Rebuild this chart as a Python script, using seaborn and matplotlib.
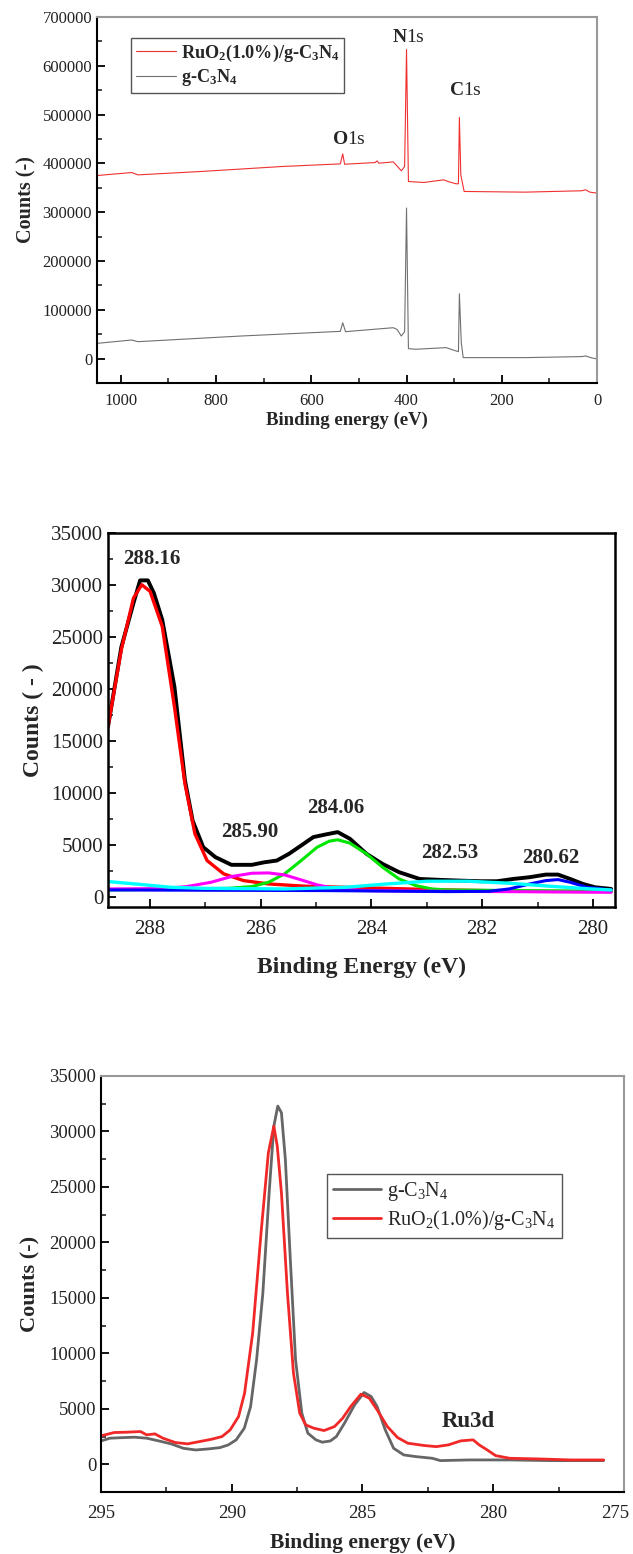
import matplotlib
matplotlib.use("Agg")
import matplotlib.pyplot as plt
import matplotlib.transforms as mtransforms
import seaborn as sns
import pandas as pd
from matplotlib.ticker import MultipleLocator

sns.set_style("ticks")
plt.rcParams["font.family"] = ["Liberation Serif", "DejaVu Serif"]
plt.rcParams["mathtext.fontset"] = "custom"
plt.rcParams["mathtext.rm"] = "Liberation Serif"
plt.rcParams["mathtext.bf"] = "Liberation Serif:bold"
plt.rcParams["mathtext.it"] = "Liberation Serif:italic"
plt.rcParams["mathtext.default"] = "regular"

# ---------------- Panel 1: survey spectra ----------------
survey_ru_x = [1049, 977, 964, 832, 662, 539, 534, 530, 466, 462, 458, 428, 420, 411, 404,
               400, 396, 364, 322, 313, 296, 291, 289, 286, 279, 151, 32, 24, 15, 0]
survey_ru_y = [375200, 381300, 376500, 383400, 393600, 399000, 419500, 398300, 401700, 405100,
               400400, 403100, 394900, 384700, 393600, 633300, 362900, 360900, 366300, 362900,
               358200, 358200, 494300, 376500, 342500, 341100, 343900, 345900, 341100, 339100]
survey_g_x = [1049, 977, 964, 747, 539, 534, 528, 428, 420, 411, 404, 400, 396, 381, 317,
              296, 291, 289, 285, 281, 151, 32, 24, 11, 0]
survey_g_y = [31300, 38100, 34700, 46300, 55800, 73500, 55200, 63300, 59900, 46300, 55200,
              308500, 20400, 19100, 22500, 15700, 14300, 132800, 32700, 2000, 2000, 4100,
              5400, 1400, -700]
survey_labels = [("N", "1s", 395, 659000), ("C", "1s", 277, 549000), ("O", "1s", 520, 448000)]

# ---------------- Panel 2: C1s fitting ----------------
env_x = [288.76, 288.52, 288.30, 288.18, 288.04, 287.93, 287.78, 287.56, 287.37, 287.23, 287.04,
         286.82, 286.53, 286.16, 285.94, 285.71, 285.49, 285.27, 285.05, 284.83, 284.61, 284.39,
         284.09, 283.80, 283.50, 283.13, 282.76, 282.40, 282.03, 281.73, 281.44, 281.14, 280.85,
         280.63, 280.41, 280.18, 279.96, 279.67]
env_y = [16350, 24000, 28250, 30440, 30440, 29200, 26640, 20200, 11200, 7300, 4760,
         3800, 3060, 3060, 3300, 3470, 4120, 4920, 5730, 5980, 6210, 5570,
         4120, 3150, 2350, 1700, 1610, 1540, 1480, 1480, 1700, 1870, 2120,
         2120, 1700, 1220, 900, 740]
red_x = [288.76, 288.52, 288.30, 288.15, 288.00, 287.78, 287.56, 287.37, 287.19, 286.97, 286.67,
         286.31, 285.86, 285.20, 284.09, 282.62, 281.14, 279.67]
red_y = [16350, 23750, 28730, 30020, 29380, 26000, 18280, 10880, 6050, 3470, 2190,
         1540, 1220, 1000, 840, 640, 510, 480]
mag_x = [288.76, 287.78, 287.34, 286.90, 286.53, 286.16, 285.86, 285.57, 285.27, 284.98, 284.68,
         284.09, 282.62, 279.67]
mag_y = [740, 770, 965, 1380, 1930, 2250, 2280, 2090, 1610, 1130, 800, 580, 510, 420]
grn_x = [288.76, 286.60, 286.16, 285.86, 285.57, 285.27, 284.98, 284.76, 284.61, 284.39, 284.09,
         283.80, 283.50, 283.20, 282.91, 282.62, 279.67]
grn_y = [640, 800, 965, 1380, 2190, 3470, 4760, 5340, 5470, 5150, 4120,
         2830, 1700, 1060, 740, 640, 510]
blu_x = [288.76, 284.83, 282.62, 281.88, 281.51, 281.14, 280.85, 280.63, 280.41, 280.11, 279.67]
blu_y = [640, 580, 480, 510, 740, 1220, 1540, 1640, 1380, 900, 640]
cyn_x = [288.76, 288.15, 287.63, 287.04, 285.57, 284.46, 283.72, 282.99, 282.25, 281.51, 280.78,
         280.04, 279.67]
cyn_y = [1450, 1160, 900, 800, 740, 900, 1220, 1480, 1480, 1290, 1000, 740, 640]
peak_labels = ["288.16", "285.90", "284.06", "282.53", "280.62"]
peak_lx = [287.96, 286.20, 284.64, 282.58, 280.76]
peak_ly = [32530, 6210, 8560, 4210, 3730]

# ---------------- Panel 3: C1s comparison ----------------
c_g_x = [295.00, 294.66, 294.19, 293.72, 293.25, 292.78, 292.32, 291.85, 291.38, 290.91, 290.45,
         290.13, 289.83, 289.52, 289.28, 289.05, 288.81, 288.57, 288.39, 288.24, 288.10, 287.95,
         287.76, 287.56, 287.32, 287.09, 286.78, 286.54, 286.23, 286.00, 285.69, 285.30, 284.94,
         284.67, 284.44, 284.13, 283.81, 283.42, 282.96, 282.33, 282.02, 280.93, 279.37, 277.81,
         275.78]
c_g_y = [2100, 2350, 2400, 2440, 2350, 2100, 1840, 1440, 1290, 1380, 1500,
         1750, 2200, 3250, 5200, 9420, 15440, 24470, 30480, 32290, 31690, 27480,
         18450, 9420, 4600, 2800, 2200, 1990, 2100, 2500, 3700, 5360, 6470,
         6110, 5200, 3100, 1440, 840, 690, 540, 330, 390, 390, 330,
         330]
c_r_x = [295.00, 294.50, 294.03, 293.49, 293.25, 292.94, 292.63, 292.16, 291.69, 291.22, 290.76,
         290.37, 290.06, 289.74, 289.51, 289.20, 288.88, 288.60, 288.39, 288.26, 288.10, 287.87,
         287.64, 287.40, 287.17, 286.86, 286.47, 286.07, 285.76, 285.45, 285.06, 284.74, 284.44,
         284.05, 283.66, 283.27, 282.64, 282.18, 281.71, 281.24, 280.77, 280.54, 280.23, 279.91,
         279.37, 278.27, 277.03, 275.78]
c_r_y = [2560, 2860, 2890, 2950, 2650, 2740, 2350, 1960, 1840, 2050, 2260,
         2500, 3100, 4300, 6410, 11830, 20850, 28080, 30480, 28680, 24470, 15440,
         8220, 4600, 3550, 3250, 3040, 3400, 4150, 5210, 6320, 5960, 4900,
         3400, 2410, 1900, 1690, 1590, 1750, 2110, 2200, 1750, 1290, 780,
         540, 480, 390, 390]
ru_label = ("Ru3d", 280.96, 3850)
p3_xticks = [295, 290, 285, 280, 275]

LBL_RU = r"RuO$_2$(1.0%)/g-C$_3$N$_4$"
LBL_G = r"g-C$_3$N$_4$"

W, H = 633, 1554
fig = plt.figure(figsize=(W / 100, H / 100), dpi=100)


def ax_at(l, t, r, b):
    return fig.add_axes([l / W, 1 - b / H, (r - l) / W, (b - t) / H])


def style_axes(ax, lw_lb, lw_tr, col_tr, fs, pad=4):
    for s in ["left", "bottom"]:
        ax.spines[s].set_linewidth(lw_lb)
        ax.spines[s].set_color("black")
    for s in ["top", "right"]:
        ax.spines[s].set_linewidth(lw_tr)
        ax.spines[s].set_color(col_tr)
        ax.spines[s].set_visible(True)
    ax.tick_params(which="major", direction="in", length=6, width=1.3, labelsize=fs,
                   top=False, right=False, colors="black", labelcolor="#222222")
    ax.tick_params(axis="x", which="major", pad=pad)
    ax.tick_params(which="minor", direction="in", length=3.5, width=1.2, top=False, right=False)


# ----- Panel 1 -----
ax1 = ax_at(97, 17, 597, 383)
sns.lineplot(x=survey_ru_x, y=survey_ru_y, ax=ax1, color="#f03030", lw=0.8,
             estimator=None, sort=False, label=LBL_RU)
sns.lineplot(x=survey_g_x, y=survey_g_y, ax=ax1, color="#707070", lw=0.8,
             estimator=None, sort=False, label=LBL_G)
ax1.set_xlim(1050, 0)
ax1.set_ylim(-50000, 700000)
ax1.xaxis.set_major_locator(MultipleLocator(200))
ax1.xaxis.set_minor_locator(MultipleLocator(100))
ax1.yaxis.set_major_locator(MultipleLocator(100000))
ax1.yaxis.set_minor_locator(MultipleLocator(50000))
style_axes(ax1, 1.5, 1.5, "#999999", 12, pad=7)
ax1.set_xlabel("Binding energy (eV)", fontsize=13.5, fontweight="bold", labelpad=2)
ax1.set_ylabel("Counts (-)", fontsize=14.5, fontweight="bold", labelpad=4)
for big, small, x, y in survey_labels:
    ax1.text(x, y, r"$\mathbf{" + big + "}$" + small, fontsize=14, ha="center", va="center")
leg1 = ax1.legend(loc="upper left", bbox_to_anchor=(0.068, 0.943), borderaxespad=0,
                  fancybox=False, edgecolor="#555555", framealpha=1, handlelength=2.2,
                  handletextpad=0.3, borderpad=0.25, labelspacing=0.2,
                  prop={"size": 13.1, "weight": "bold"})
leg1.get_frame().set_linewidth(1.0)

# ----- Panel 2 -----
ax2 = ax_at(108, 533, 615, 907)
for xs, ys, c, lw in [(env_x, env_y, "black", 2.8), (red_x, red_y, "#ff0000", 2.4),
                      (grn_x, grn_y, "#00e600", 2.2), (mag_x, mag_y, "#ff00ff", 2.2),
                      (blu_x, blu_y, "#0000ff", 2.2), (cyn_x, cyn_y, "#00ffff", 2.4)]:
    sns.lineplot(x=xs, y=ys, ax=ax2, color=c, lw=lw, estimator=None, sort=False)
ax2.set_xlim(288.76, 279.6)
ax2.set_ylim(-1000, 35000)
ax2.xaxis.set_major_locator(MultipleLocator(2))
ax2.xaxis.set_minor_locator(MultipleLocator(1))
ax2.yaxis.set_major_locator(MultipleLocator(5000))
ax2.yaxis.set_minor_locator(MultipleLocator(2500))
style_axes(ax2, 1.8, 1.8, "black", 15, pad=9)
ax2.set_xlabel("Binding Energy (eV)", fontsize=17, fontweight="bold", labelpad=13)
ax2.set_ylabel("Counts ( - )", fontsize=17, fontweight="bold", labelpad=5)
for t, x, y in zip(peak_labels, peak_lx, peak_ly):
    ax2.text(x, y, t, fontsize=15, fontweight="bold", ha="center", va="center")

# ----- Panel 3 -----
ax3 = ax_at(101, 1076, 624, 1492)
sns.lineplot(x=c_g_x, y=c_g_y, ax=ax3, color="#666666", lw=2.0, estimator=None,
             sort=False, label=LBL_G)
sns.lineplot(x=c_r_x, y=c_r_y, ax=ax3, color="#f02828", lw=2.0, estimator=None,
             sort=False, label=LBL_RU)
ax3.set_xlim(295, 275)
ax3.set_ylim(-2500, 35000)
ax3.set_xticks(p3_xticks)
ax3.xaxis.set_minor_locator(MultipleLocator(2.5))
ax3.yaxis.set_major_locator(MultipleLocator(5000))
ax3.yaxis.set_minor_locator(MultipleLocator(2500))
style_axes(ax3, 1.5, 1.5, "#999999", 13.5, pad=9)
ax3.set_xlabel("Binding energy (eV)", fontsize=15.5, fontweight="bold", labelpad=8)
ax3.set_ylabel("Counts (-)", fontsize=16, fontweight="bold", labelpad=6)
ax3.text(ru_label[1], ru_label[2], ru_label[0], fontsize=16.5, fontweight="bold",
         ha="center", va="center")
leg3 = ax3.legend(loc="upper left", bbox_to_anchor=(0.432, 0.764), borderaxespad=0,
                  fancybox=False, edgecolor="#555555", framealpha=1, handlelength=2.4,
                  handletextpad=0.3, borderpad=0.3, labelspacing=0.25, prop={"size": 14.5})
leg3.get_frame().set_linewidth(1.0)
# keep the last x tick label inside the figure edge, as in the reference
last_lbl = ax3.get_xticklabels()[-1]
last_lbl.set_transform(last_lbl.get_transform() +
                       mtransforms.ScaledTranslation(-9 / 100, 0, fig.dpi_scale_trans))

fig.savefig("out.png", dpi=100)
